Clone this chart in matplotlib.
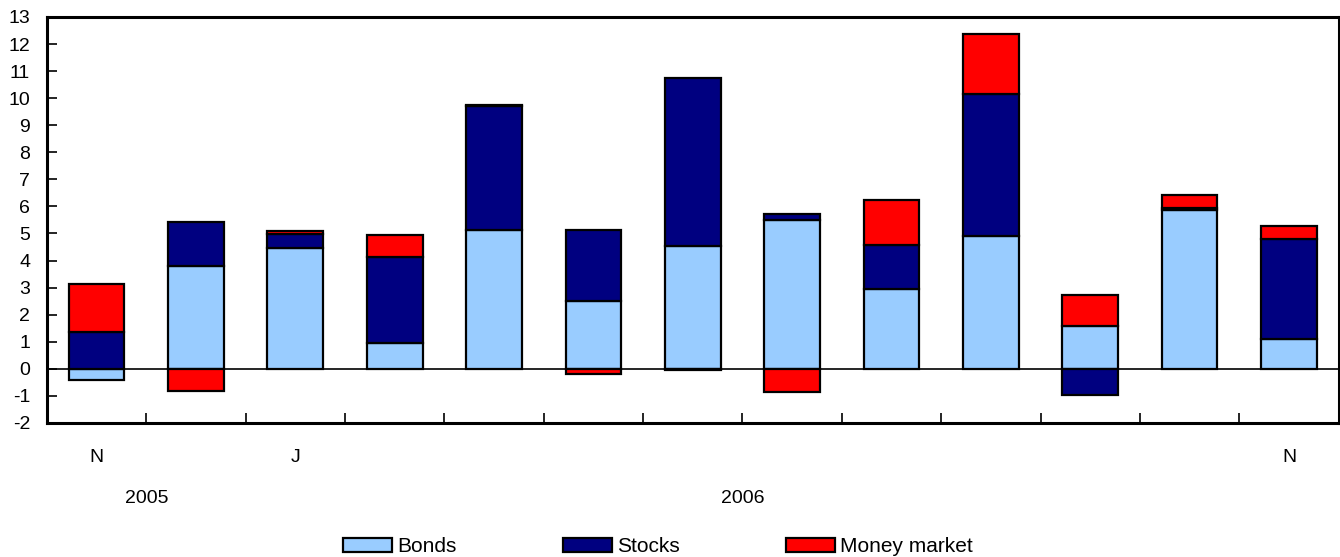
import numpy as np
import matplotlib.pyplot as plt
from matplotlib.patches import Patch

plt.rcParams["font.family"] = ["Liberation Sans", "DejaVu Sans"]
plt.rcParams["axes.unicode_minus"] = False

# monthly values, Nov 2005 .. Nov 2006
months = ["N", "", "J", "", "", "", "", "", "", "", "", "", "N"]
bonds = [-0.43, 3.80, 4.48, 0.97, 5.14, 2.50, 4.54, 5.49, 2.96, 4.92, 1.58, 5.86, 1.09]
stocks = [1.36, 1.62, 0.51, 3.17, 4.56, 2.63, 6.20, 0.24, 1.63, 5.22, -0.95, 0.10, 3.72]
money = [1.79, -0.83, 0.09, 0.82, 0.06, -0.20, -0.03, -0.86, 1.66, 2.22, 1.15, 0.45, 0.48]
years = ["2005", "2006"]
year_pos = [0.5, 6.5]  # boundary positions where year labels sit

series = [("Bonds", bonds, "#99ccff"), ("Stocks", stocks, "#000080"),
          ("Money market", money, "#ff0000")]

fig = plt.figure(figsize=(13.4, 5.57), dpi=100)
ax = fig.add_axes([0.035, 0.2406, 0.964, 0.729])

x = np.arange(len(months))
pos_base = np.zeros(len(months))
neg_base = np.zeros(len(months))
for name, vals, col in series:
    vals = np.array(vals)
    base = np.where(vals >= 0, pos_base, neg_base)
    ax.bar(x, vals, bottom=base, width=0.56, color=col, edgecolor="black",
           linewidth=1.6, label=name, zorder=2)
    pos_base += np.where(vals >= 0, vals, 0)
    neg_base += np.where(vals < 0, vals, 0)

ax.axhline(0, color="black", lw=1.2, zorder=3)

ax.set_xlim(-0.5, len(months) - 0.5)
ax.set_ylim(-2, 13)
ax.set_yticks(range(-2, 14))
ax.tick_params(axis="y", direction="in", length=7, width=1.2, labelsize=14, pad=12)

# boundary ticks (no labels) and month labels at bar centres
ax.set_xticks(np.arange(0.5, len(months) - 0.5, 1.0))
ax.set_xticklabels([])
ax.tick_params(axis="x", which="major", direction="in", length=7, width=1.2)
ax.set_xticks(x, minor=True)
ax.set_xticklabels(months, minor=True)
ax.tick_params(axis="x", which="minor", length=0, labelsize=14, pad=19)

for yl, xp in zip(years, year_pos):
    ax.text(xp, -0.185, yl, transform=ax.get_xaxis_transform(),
            ha="center", va="center", fontsize=14)

for s in ax.spines.values():
    s.set_linewidth(2.2)

fig.legend(handles=[Patch(facecolor=c, edgecolor="black", linewidth=1.6, label=n)
                    for n, _, c in series],
           loc="center", bbox_to_anchor=(0.491, 0.018), ncol=3, frameon=False,
           fontsize=15, handlelength=2.36, handleheight=0.67, handletextpad=0.25,
           columnspacing=5.1)

fig.savefig("out.png", dpi=100)
